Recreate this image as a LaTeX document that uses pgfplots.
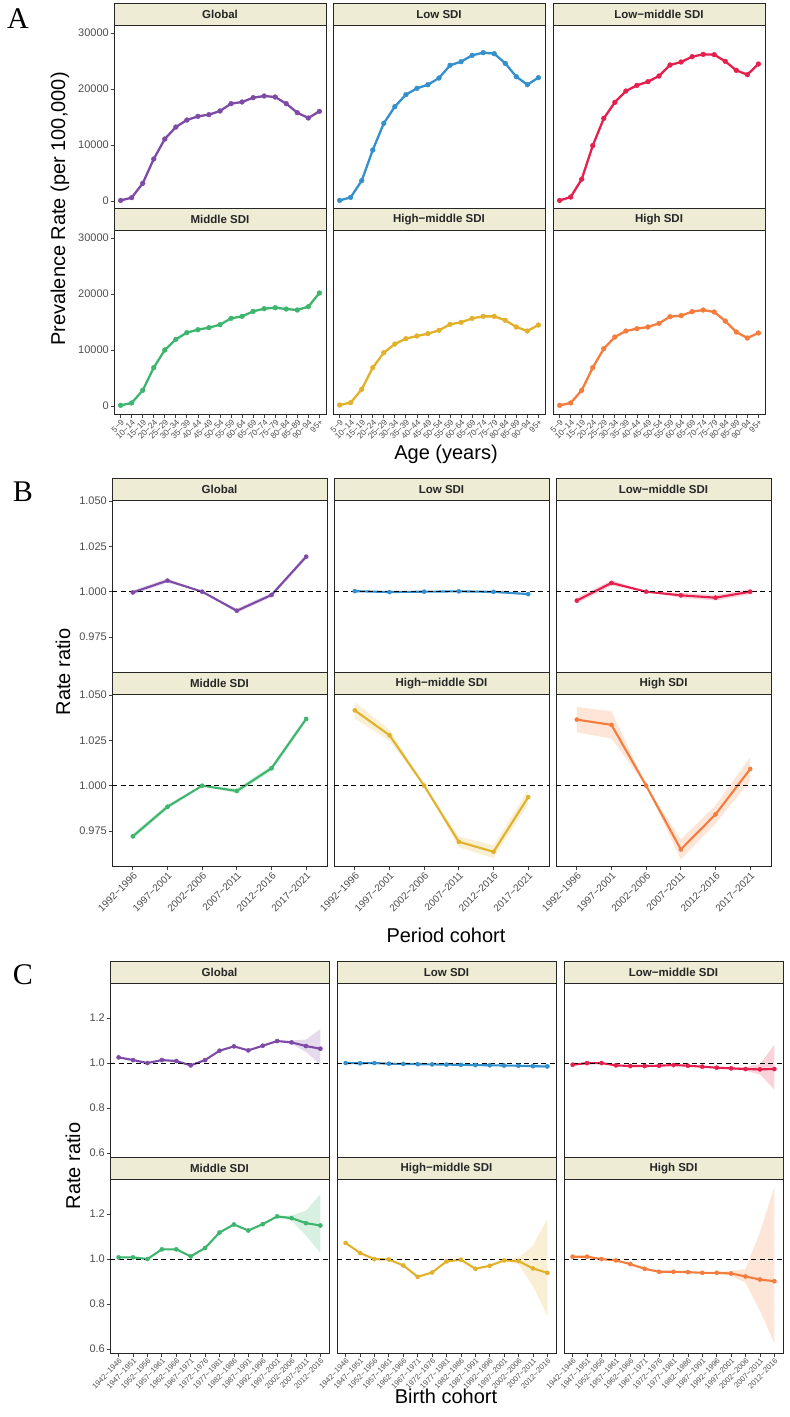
\documentclass[border=0pt]{standalone}
\usepackage{fontspec}
\setmainfont{Liberation Sans}
\newfontfamily\letterfont{Liberation Serif}
\usepackage{pgfplots}
\pgfplotsset{compat=1.18}
\usepackage{pgfplotstable}

\definecolor{cGlobal}{HTML}{7D4BA6}
\definecolor{cLow}{HTML}{3390CC}
\definecolor{cLowMid}{HTML}{E4204E}
\definecolor{cMid}{HTML}{3DB56E}
\definecolor{cHighMid}{HTML}{E2B12C}
\definecolor{cHigh}{HTML}{F47C3C}
\definecolor{stripfill}{HTML}{EEECD5}
\definecolor{ticktext}{HTML}{4D4D4D}

% ---------- Age effect: prevalence rate per 100,000 ----------
\pgfplotstableread{
x glob low lowmid mid highmid high
0 100 100 100 120 180 120
1 600 650 700 540 600 540
2 3150 3630 3900 2800 2980 2800
3 7500 9100 9900 6850 6850 6850
4 11070 13870 14760 10000 9520 10240
5 13210 16850 17620 11900 11070 12320
6 14460 18990 19640 13100 12020 13390
7 15120 20120 20650 13630 12500 13810
8 15420 20770 21310 13990 12920 14110
9 16070 21960 22320 14520 13510 14760
10 17380 24230 24290 15650 14580 15950
11 17680 24880 24820 16010 14940 16130
12 18450 26010 25770 16900 15650 16850
13 18750 26490 26190 17380 16010 17140
14 18570 26310 26130 17560 16010 16790
15 17380 24580 24940 17320 15300 15180
16 15770 22200 23330 17140 14110 13210
17 14820 20770 22560 17740 13390 12140
18 16010 22020 24460 20180 14460 13040
}\ageTable

% ---------- Period effect: rate ratio with 95% CI ----------
\pgfplotstableread{
x y lo hi
0 0.9996 0.9984 1.0008
1 1.0061 1.0049 1.0073
2 1.0000 1.0000 1.0000
3 0.9895 0.9883 0.9907
4 0.9982 0.9970 0.9994
5 1.0193 1.0180 1.0206
}\perGlobal
\pgfplotstableread{
x y lo hi
0 1.0003 0.9998 1.0008
1 0.9998 0.9993 1.0003
2 1.0000 1.0000 1.0000
3 1.0002 0.9997 1.0007
4 0.9999 0.9994 1.0004
5 0.9987 0.9981 0.9993
}\perLow
\pgfplotstableread{
x y lo hi
0 0.9951 0.9936 0.9966
1 1.0048 1.0033 1.0063
2 1.0000 1.0000 1.0000
3 0.9980 0.9966 0.9994
4 0.9967 0.9952 0.9982
5 1.0000 0.9985 1.0015
}\perLowMid
\pgfplotstableread{
x y lo hi
0 0.9721 0.9706 0.9736
1 0.9884 0.9870 0.9898
2 1.0000 1.0000 1.0000
3 0.9971 0.9957 0.9985
4 1.0096 1.0081 1.0111
5 1.0368 1.0353 1.0383
}\perMid
\pgfplotstableread{
x y lo hi
0 1.0415 1.0370 1.0460
1 1.0278 1.0248 1.0308
2 1.0000 1.0000 1.0000
3 0.9691 0.9661 0.9721
4 0.9636 0.9601 0.9671
5 0.9937 0.9897 0.9977
}\perHighMid
\pgfplotstableread{
x y lo hi
0 1.0364 1.0294 1.0434
1 1.0335 1.0260 1.0410
2 1.0000 1.0000 1.0000
3 0.9649 0.9594 0.9704
4 0.9842 0.9792 0.9892
5 1.0092 1.0027 1.0157
}\perHigh

% ---------- Cohort effect: rate ratio with 95% CI ----------
\pgfplotstableread{
x y lo hi
0 1.0252 1.0222 1.0282
1 1.0133 1.0103 1.0163
2 1.0000 1.0000 1.0000
3 1.0133 1.0103 1.0163
4 1.0089 1.0059 1.0119
5 0.9896 0.9866 0.9926
6 1.0133 1.0103 1.0163
7 1.0548 1.0518 1.0578
8 1.0741 1.0711 1.0771
9 1.0563 1.0533 1.0593
10 1.0770 1.0740 1.0800
11 1.0978 1.0948 1.1008
12 1.0919 1.0839 1.0999
13 1.0756 1.0500 1.1050
14 1.0637 0.9900 1.1510
}\cohGlobal
\pgfplotstableread{
x y lo hi
0 1.000 0.998 1.002
1 0.999 0.997 1.001
2 1.000 1.000 1.000
3 0.997 0.995 0.999
4 0.996 0.994 0.998
5 0.995 0.993 0.997
6 0.994 0.992 0.996
7 0.993 0.991 0.995
8 0.992 0.990 0.994
9 0.991 0.989 0.993
10 0.990 0.988 0.992
11 0.989 0.987 0.991
12 0.988 0.985 0.991
13 0.986 0.982 0.990
14 0.985 0.975 0.996
}\cohLow
\pgfplotstableread{
x y lo hi
0 0.9926 0.9896 0.9956
1 0.9995 0.9965 1.0025
2 1.0000 1.0000 1.0000
3 0.9896 0.9866 0.9926
4 0.9867 0.9837 0.9897
5 0.9867 0.9837 0.9897
6 0.9881 0.9851 0.9911
7 0.9911 0.9881 0.9941
8 0.9881 0.9851 0.9911
9 0.9837 0.9807 0.9867
10 0.9793 0.9763 0.9823
11 0.9763 0.9733 0.9793
12 0.9733 0.9653 0.9813
13 0.9719 0.9500 0.9950
14 0.9733 0.8820 1.0820
}\cohLowMid
\pgfplotstableread{
x y lo hi
0 1.0075 1.0045 1.0105
1 1.0075 1.0045 1.0105
2 1.0000 1.0000 1.0000
3 1.0433 1.0403 1.0463
4 1.0433 1.0403 1.0463
5 1.0119 1.0089 1.0149
6 1.0493 1.0463 1.0523
7 1.1179 1.1149 1.1209
8 1.1537 1.1507 1.1567
9 1.1269 1.1239 1.1299
10 1.1552 1.1522 1.1582
11 1.1896 1.1866 1.1926
12 1.1821 1.1700 1.1940
13 1.1597 1.1050 1.2150
14 1.1493 1.0270 1.2880
}\cohMid
\pgfplotstableread{
x y lo hi
0 1.0716 1.0686 1.0746
1 1.0269 1.0239 1.0299
2 1.0000 1.0000 1.0000
3 0.9980 0.9950 1.0010
4 0.9716 0.9686 0.9746
5 0.9209 0.9179 0.9239
6 0.9403 0.9373 0.9433
7 0.9896 0.9866 0.9926
8 0.9970 0.9940 1.0000
9 0.9567 0.9537 0.9597
10 0.9701 0.9671 0.9731
11 0.9940 0.9910 0.9970
12 0.9910 0.9760 1.0060
13 0.9582 0.8800 1.0600
14 0.9388 0.7460 1.1800
}\cohHighMid
\pgfplotstableread{
x y lo hi
0 1.0104 1.0074 1.0134
1 1.0104 1.0074 1.0134
2 1.0000 1.0000 1.0000
3 0.9940 0.9910 0.9970
4 0.9776 0.9746 0.9806
5 0.9567 0.9537 0.9597
6 0.9433 0.9403 0.9463
7 0.9433 0.9403 0.9463
8 0.9418 0.9388 0.9448
9 0.9388 0.9358 0.9418
10 0.9388 0.9358 0.9418
11 0.9358 0.9240 0.9480
12 0.9224 0.8950 0.9550
13 0.9090 0.7700 1.1200
14 0.9015 0.6240 1.3210
}\cohHigh

\pgfplotsset{
  /pgf/number format/assume math mode=true,
  facet/.style={
    scale only axis, anchor=north west, name=f,
    axis line style={line width=0.9bp, draw=black!85},
    tick align=outside, major tick length=3.5bp,
    tick style={line width=0.8bp, black!75},
    xtick pos=left, ytick pos=left,
    yticklabel style={font=\fontsize{11bp}{12bp}\selectfont, text=ticktext, inner sep=1.5bp},
    xticklabel style={rotate=45, anchor=north east, text=ticktext, inner sep=1bp},
  },
  panelA/.style={facet, width=212bp, height=184bp, clip mode=individual,
    xmin=-0.6, xmax=18.6, ymin=-1430, ymax=31430,
    ytick={0,10000,20000,30000}, scaled y ticks=false,
    yticklabel style={/pgf/number format/1000 sep={}},
    xticklabel style={font=\fontsize{8.3bp}{9bp}\selectfont}},
  panelB/.style={facet, width=215bp, height=172.5bp,
    xmin=-0.6, xmax=5.6, ymin=0.9555, ymax=1.0505,
    ytick={0.975,1,1.025,1.05},
    yticklabel style={/pgf/number format/fixed, /pgf/number format/fixed zerofill, /pgf/number format/precision=3},
    xticklabel style={font=\fontsize{10bp}{11bp}\selectfont}},
  panelC/.style={facet, width=219bp, height=174bp,
    xmin=-0.6, xmax=14.6, ymin=0.582, ymax=1.356,
    ytick={0.6,0.8,1.0,1.2},
    yticklabel style={/pgf/number format/fixed, /pgf/number format/fixed zerofill, /pgf/number format/precision=1},
    xticklabel style={font=\fontsize{7.6bp}{8bp}\selectfont}},
  toprow/.style={xtick=\empty},
  rightcol/.style={ytick=\empty},
  bottomA/.style={xtick={0,...,18},
    xticklabels={5−9,10−14,15−19,20−24,25−29,30−34,35−39,40−44,45−49,50−54,55−59,60−64,65−69,70−74,75−79,80−84,85−89,90−94,95+}},
  bottomB/.style={xtick={0,...,5},
    xticklabels={1992−1996,1997−2001,2002−2006,2007−2011,2012−2016,2017−2021}},
  bottomC/.style={xtick={0,...,14},
    xticklabels={1942−1946,1947−1951,1952−1956,1957−1961,1962−1966,1967−1971,1972−1976,1977−1981,1982−1986,1987−1991,1992−1996,1997−2001,2002−2006,2007−2011,2012−2016}},
}

% facet strip drawn on top of the last axis named f
\newcommand\stripbox[1]{%
  \draw[fill=stripfill, line width=0.9bp, draw=black!85]
    (f.north west) rectangle ([yshift=21.5bp]f.north east)
    node[midway, font=\bfseries\fontsize{11.5bp}{13bp}\selectfont, text=black!85] {#1};}

% CI polygon of a table: upper bound forward, lower bound backward, in column b of \bandfwd
\newcommand\makeband[1]{%
  \pgfplotstablesort[sort key=x, sort cmp=float <]{\bandfwd}{#1}%
  \pgfplotstablesort[sort key=x, sort cmp=float >]{\bandrev}{#1}%
  \pgfplotstablecreatecol[copy=hi]{b}{\bandfwd}%
  \pgfplotstablecreatecol[copy=lo]{b}{\bandrev}%
  \pgfplotstablevertcat{\bandfwd}{\bandrev}}

% age facet: left, top, colour, strip label, column, extra styles
\newcommand\facetA[6]{%
  \begin{axis}[panelA, at={(#1bp,-#2bp)}, #6]
    \addplot[#3, line width=2.3bp, line join=round, mark=*, mark size=2.4bp,
      mark options={line width=0.4bp}] table[x=x, y=#5] {\ageTable};
  \end{axis}
  \stripbox{#4}}

% rate-ratio facet: left, top, colour, strip label, table, styles
\newcommand\facetR[6]{%
  \makeband{#5}%
  \begin{axis}[at={(#1bp,-#2bp)}, #6]
    \addplot[fill=#3, fill opacity=0.2, draw=none, forget plot] table[x=x, y=b] {\bandfwd};
    \addplot[#3, line width=2.1bp, line join=round, mark=*, mark size=2.1bp,
      mark options={line width=0.4bp}] table[x=x, y=y] {#5};
    \draw[black, line width=0.9bp, dash pattern=on 5bp off 3.5bp]
      (axis cs:\pgfkeysvalueof{/pgfplots/xmin},1) -- (axis cs:\pgfkeysvalueof{/pgfplots/xmax},1);
  \end{axis}
  \stripbox{#4}}

\begin{document}
\begin{tikzpicture}
\path[use as bounding box] (0,0) rectangle (790bp,-1417bp);

% ---- A: age ----
\facetA{114}{25}{cGlobal}{Global}{glob}{toprow}
\facetA{333}{25}{cLow}{Low SDI}{low}{toprow, rightcol}
\facetA{553}{25}{cLowMid}{Low−middle SDI}{lowmid}{toprow, rightcol}
\facetA{114}{230}{cMid}{Middle SDI}{mid}{bottomA}
\facetA{333}{230}{cHighMid}{High−middle SDI}{highmid}{bottomA, rightcol}
\facetA{553}{230}{cHigh}{High SDI}{high}{bottomA, rightcol}

% ---- B: period ----
\facetR{112}{500}{cGlobal}{Global}{\perGlobal}{panelB, toprow}
\facetR{334}{500}{cLow}{Low SDI}{\perLow}{panelB, toprow, rightcol}
\facetR{556}{500}{cLowMid}{Low−middle SDI}{\perLowMid}{panelB, toprow, rightcol}
\facetR{112}{694}{cMid}{Middle SDI}{\perMid}{panelB, bottomB}
\facetR{334}{694}{cHighMid}{High−middle SDI}{\perHighMid}{panelB, bottomB, rightcol}
\facetR{556}{694}{cHigh}{High SDI}{\perHigh}{panelB, bottomB, rightcol}

% ---- C: birth cohort ----
\facetR{110}{983}{cGlobal}{Global}{\cohGlobal}{panelC, toprow}
\facetR{337}{983}{cLow}{Low SDI}{\cohLow}{panelC, toprow, rightcol}
\facetR{564}{983}{cLowMid}{Low−middle SDI}{\cohLowMid}{panelC, toprow, rightcol}
\facetR{110}{1179}{cMid}{Middle SDI}{\cohMid}{panelC, bottomC}
\facetR{337}{1179}{cHighMid}{High−middle SDI}{\cohHighMid}{panelC, bottomC, rightcol}
\facetR{564}{1179}{cHigh}{High SDI}{\cohHigh}{panelC, bottomC, rightcol}

% axis titles
\begin{scope}[every node/.style={font=\fontsize{20bp}{22bp}\selectfont, text=black}]
  \node at (446bp,-454bp) {Age (years)};
  \node[rotate=90] at (60bp,-209bp) {Prevalence Rate (per 100,000)};
  \node at (446bp,-935bp) {Period cohort};
  \node[rotate=90] at (63bp,-672bp) {Rate ratio};
  \node at (446bp,-1396bp) {Birth cohort};
  \node[rotate=90] at (73bp,-1166bp) {Rate ratio};
\end{scope}

% panel letters
\begin{scope}[every node/.style={font=\letterfont\fontsize{30bp}{30bp}\selectfont}]
  \node at (18bp,-19bp) {A};
  \node at (23bp,-492bp) {B};
  \node at (23bp,-975bp) {C};
\end{scope}
\end{tikzpicture}
\end{document}
